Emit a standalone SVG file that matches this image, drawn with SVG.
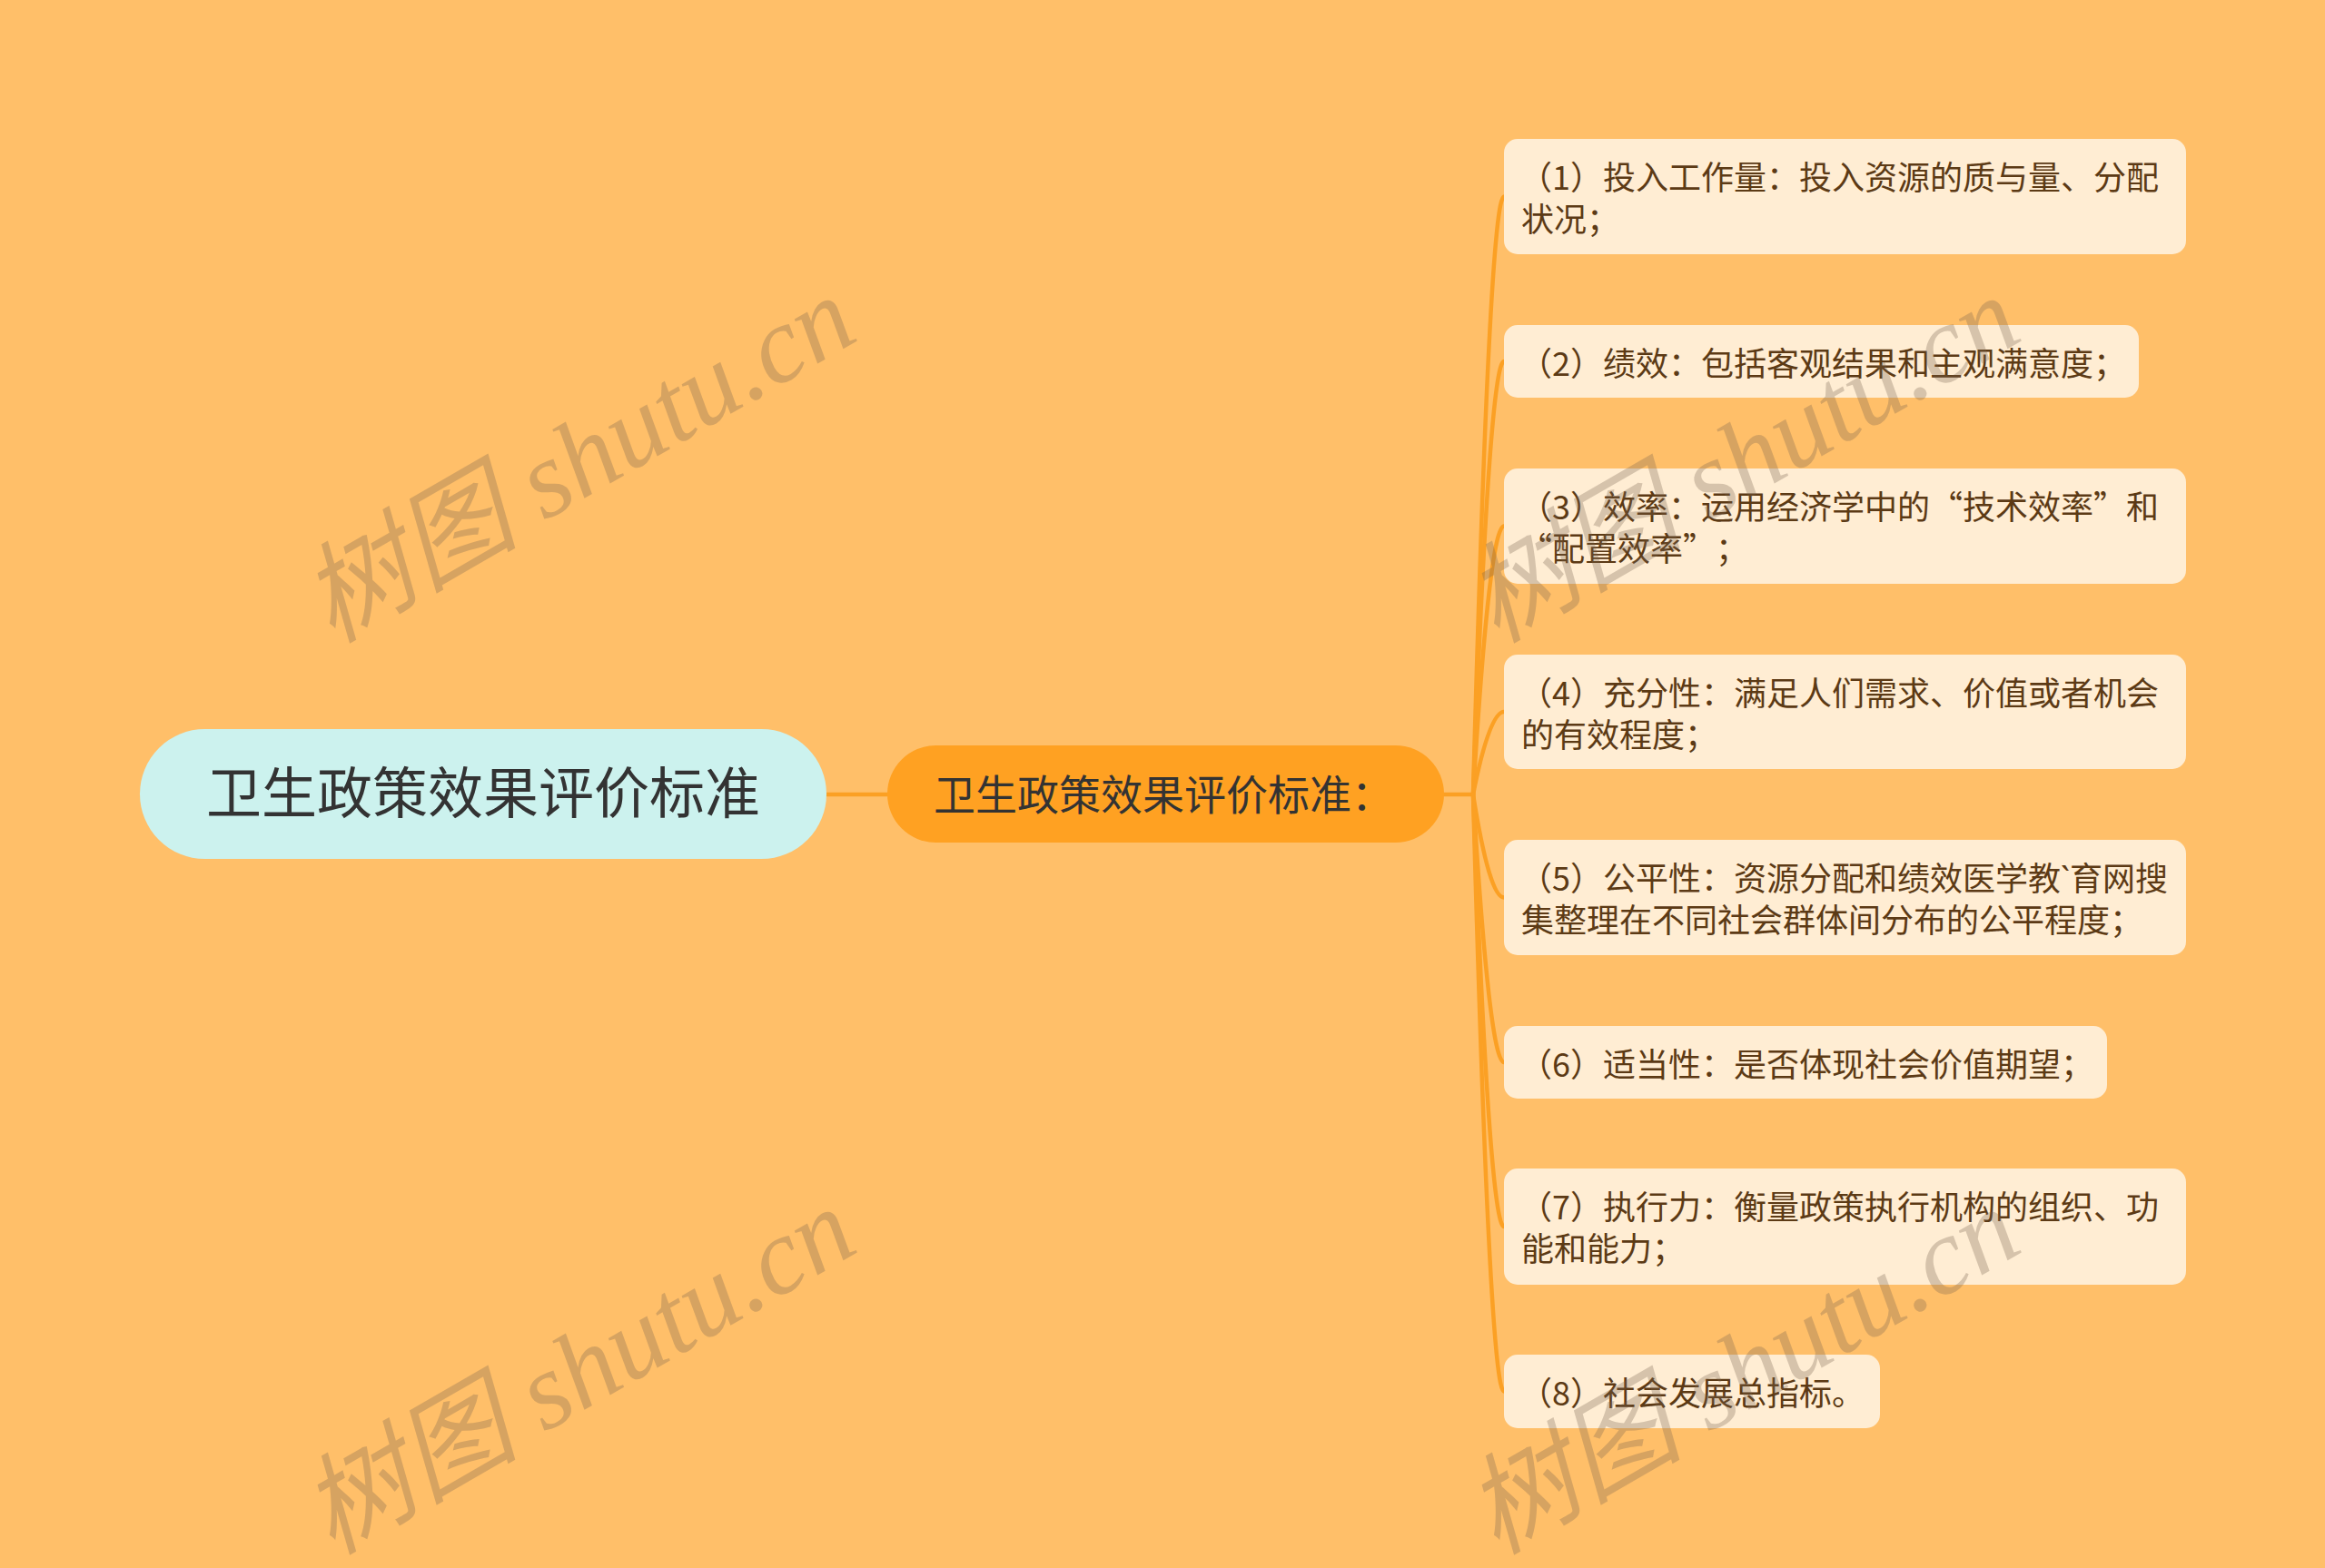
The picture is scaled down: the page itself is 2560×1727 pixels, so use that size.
<svg xmlns="http://www.w3.org/2000/svg" width="2560" height="1727" viewBox="0 0 2560 1727">
<style>
.bg{fill:#FFBF69}
.leaf rect{fill:#FFEDD3}
.leaf text{font-family:"Noto Sans CJK SC","Noto Sans",sans-serif;font-size:36px;fill:#5C3A15;text-spacing-trim:space-all}
.conn{fill:none;stroke:#FBA024;stroke-width:4.5;stroke-linecap:round}
.wm{font-family:"Liberation Serif","Noto Sans CJK SC",serif;font-style:italic;font-size:120px;fill:#786450;fill-opacity:0.3}
</style>
<rect class="bg" x="0" y="0" width="2560" height="1727"/>
<g id="connectors">
<path class="conn" d="M910 875 L977 875"/>
<path class="conn" d="M1590 875 L1622 875"/>
<path class="conn" d="M1622 875 Q1640 216.5 1656 216.5"/>
<path class="conn" d="M1622 875 Q1640 398 1656 398"/>
<path class="conn" d="M1622 875 Q1640 579.5 1656 579.5"/>
<path class="conn" d="M1622 875 Q1640 784 1656 784"/>
<path class="conn" d="M1622 875 Q1640 988.5 1656 988.5"/>
<path class="conn" d="M1622 875 Q1640 1170 1656 1170"/>
<path class="conn" d="M1622 875 Q1640 1351 1656 1351"/>
<path class="conn" d="M1622 875 Q1640 1532.5 1656 1532.5"/>
</g>
<g id="root">
<rect x="154" y="803" width="756" height="143" rx="71.5" fill="#CCF2EE"/>
<text x="532" y="896" text-anchor="middle" font-family="Noto Sans CJK SC, sans-serif" font-size="61" fill="#333333">卫生政策效果评价标准</text>
</g>
<g id="child">
<rect x="977" y="821" width="613" height="107" rx="53.5" fill="#FFA122"/>
<text x="1028" y="892" font-family="Noto Sans CJK SC, sans-serif" font-size="46" fill="#333333">卫生政策效果评价标准：</text>
</g>
<g id="leaf1" class="leaf">
<rect x="1656" y="153" width="751" height="127" rx="15"/>
<text x="1673" y="209">（1）投入工作量：投入资源的质与量、分配</text>
<text x="1675" y="255">状况；</text>
</g>
<g id="leaf2" class="leaf">
<rect x="1656" y="358" width="699" height="80" rx="15"/>
<text x="1673" y="414">（2）绩效：包括客观结果和主观满意度；</text>
</g>
<g id="leaf3" class="leaf">
<rect x="1656" y="516" width="751" height="127" rx="15"/>
<text x="1673" y="572">（3）效率：运用经济学中的“技术效率”和</text>
<text x="1673" y="618">“配置效率”；</text>
</g>
<g id="leaf4" class="leaf">
<rect x="1656" y="721" width="751" height="126" rx="15"/>
<text x="1673" y="777">（4）充分性：满足人们需求、价值或者机会</text>
<text x="1675" y="823">的有效程度；</text>
</g>
<g id="leaf5" class="leaf">
<rect x="1656" y="925" width="751" height="127" rx="15"/>
<text x="1673" y="981">（5）公平性：资源分配和绩效医学教<tspan font-family="Noto Sans, sans-serif">`</tspan>育网搜</text>
<text x="1675" y="1027">集整理在不同社会群体间分布的公平程度；</text>
</g>
<g id="leaf6" class="leaf">
<rect x="1656" y="1130" width="664" height="80" rx="15"/>
<text x="1673" y="1186">（6）适当性：是否体现社会价值期望；</text>
</g>
<g id="leaf7" class="leaf">
<rect x="1656" y="1287" width="751" height="128" rx="15"/>
<text x="1673" y="1343">（7）执行力：衡量政策执行机构的组织、功</text>
<text x="1675" y="1389">能和能力；</text>
</g>
<g id="leaf8" class="leaf">
<rect x="1656" y="1492" width="414" height="81" rx="15"/>
<text x="1673" y="1548">（8）社会发展总指标。</text>
</g>
<g id="watermarks">
<text class="wm" text-anchor="middle" transform="translate(657 541) rotate(-30)">树图 shutu.cn</text>
<text class="wm" text-anchor="middle" transform="translate(657 1545) rotate(-30)">树图 shutu.cn</text>
<text class="wm" text-anchor="middle" transform="translate(1939 541) rotate(-30)">树图 shutu.cn</text>
<text class="wm" text-anchor="middle" transform="translate(1939 1545) rotate(-30)">树图 shutu.cn</text>
</g>
</svg>
